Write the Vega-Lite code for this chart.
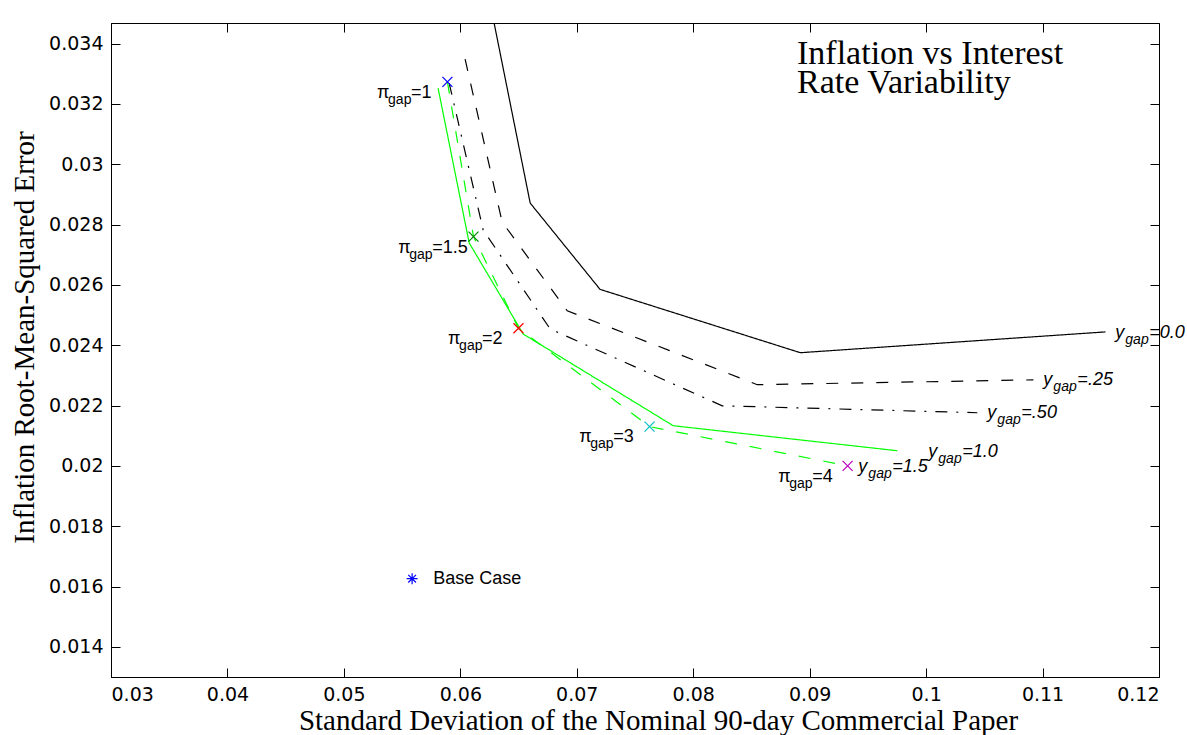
{
  "$schema": "https://vega.github.io/schema/vega-lite/v6.json",
  "width": 1048,
  "height": 654,
  "autosize": "none",
  "padding": {"left": 111, "top": 23, "right": 28, "bottom": 58},
  "background": "white",
  "title": {
    "text": ["Inflation vs Interest", "Rate Variability"],
    "anchor": "start",
    "frame": "group",
    "orient": "top",
    "offset": 0,
    "dx": 686,
    "dy": 104,
    "baseline": "alphabetic",
    "font": "Liberation Serif",
    "fontSize": 34,
    "fontWeight": "normal",
    "lineHeight": 29,
    "color": "#000000"
  },
  "config": {
    "view": {"stroke": "#000000", "strokeWidth": 1},
    "axis": {
      "grid": false,
      "domainColor": "#000000",
      "tickColor": "#000000",
      "tickWidth": 1,
      "labelColor": "#000000",
      "labelFont": "DejaVu Sans",
      "labelFontSize": 19,
      "titleColor": "#000000",
      "titleFont": "Liberation Serif",
      "titleFontSize": 29,
      "titleFontWeight": "normal"
    }
  },
  "datasets": {
    "lines": [
      {"series": "y0.0", "order": 1, "x": 0.0629, "y": 0.03468},
      {"series": "y0.0", "order": 2, "x": 0.0660, "y": 0.02871},
      {"series": "y0.0", "order": 3, "x": 0.0720, "y": 0.02585},
      {"series": "y0.0", "order": 4, "x": 0.0892, "y": 0.02375},
      {"series": "y0.0", "order": 5, "x": 0.1154, "y": 0.02444},
      {"series": "y.25", "order": 1, "x": 0.06041, "y": 0.03348},
      {"series": "y.25", "order": 2, "x": 0.06359, "y": 0.02808},
      {"series": "y.25", "order": 3, "x": 0.06918, "y": 0.02514},
      {"series": "y.25", "order": 4, "x": 0.0855, "y": 0.02269},
      {"series": "y.25", "order": 5, "x": 0.10921, "y": 0.02285},
      {"series": "y.50", "order": 1, "x": 0.05904, "y": 0.03269},
      {"series": "y.50", "order": 2, "x": 0.06196, "y": 0.02782},
      {"series": "y.50", "order": 3, "x": 0.06771, "y": 0.02454},
      {"series": "y.50", "order": 4, "x": 0.08249, "y": 0.02199},
      {"series": "y.50", "order": 5, "x": 0.1044, "y": 0.02176},
      {"series": "y1.0", "order": 1, "x": 0.05809, "y": 0.03252},
      {"series": "y1.0", "order": 2, "x": 0.06076, "y": 0.02739},
      {"series": "y1.0", "order": 3, "x": 0.0654, "y": 0.02437},
      {"series": "y1.0", "order": 4, "x": 0.07828, "y": 0.02133},
      {"series": "y1.0", "order": 5, "x": 0.09753, "y": 0.0205},
      {"series": "y1.5", "order": 1, "x": 0.05889, "y": 0.03273},
      {"series": "y1.5", "order": 2, "x": 0.06113, "y": 0.0276},
      {"series": "y1.5", "order": 3, "x": 0.06499, "y": 0.02456},
      {"series": "y1.5", "order": 4, "x": 0.07625, "y": 0.0213},
      {"series": "y1.5", "order": 5, "x": 0.09326, "y": 0.02}
    ],
    "markers": [
      {"pi": "1", "x": 0.05889, "y": 0.03273},
      {"pi": "1.5", "x": 0.06113, "y": 0.0276},
      {"pi": "2", "x": 0.06499, "y": 0.02456},
      {"pi": "3", "x": 0.07625, "y": 0.0213},
      {"pi": "4", "x": 0.09326, "y": 0.02}
    ],
    "piLabels": [
      {"x": 0.05285, "y": 0.03219, "sub": "gap", "rest": "=1"},
      {"x": 0.05466, "y": 0.02706, "sub": "gap", "rest": "=1.5"},
      {"x": 0.05895, "y": 0.02404, "sub": "gap", "rest": "=2"},
      {"x": 0.07021, "y": 0.0208, "sub": "gap", "rest": "=3"},
      {"x": 0.0873, "y": 0.01947, "sub": "gap", "rest": "=4"}
    ],
    "yLabels": [
      {"x": 0.11625, "y": 0.02424, "sub": "gap", "rest": "=0.0"},
      {"x": 0.11007, "y": 0.02269, "sub": "gap", "rest": "=.25"},
      {"x": 0.10526, "y": 0.02159, "sub": "gap", "rest": "=.50"},
      {"x": 0.10019, "y": 0.0203, "sub": "gap", "rest": "=1.0"},
      {"x": 0.09418, "y": 0.0198, "sub": "gap", "rest": "=1.5"}
    ],
    "base": [
      {"x": 0.05586, "y": 0.01626, "label": "Base Case"}
    ]
  },
  "layer": [
    {
      "data": {"name": "lines"},
      "mark": {"type": "line", "clip": true, "strokeWidth": 1.2},
      "encoding": {
        "x": {
          "field": "x", "type": "quantitative",
          "scale": {"domain": [0.03, 0.12], "nice": false, "zero": false},
          "axis": {
            "orient": "bottom",
            "values": [0.03, 0.04, 0.05, 0.06, 0.07, 0.08, 0.09, 0.1, 0.11, 0.12],
            "format": "~g",
            "tickSize": -9,
            "labelPadding": 17,
            "title": "Standard Deviation of the Nominal 90-day Commercial Paper",
            "titleX": 547,
            "titleY": 52,
            "titleBaseline": "alphabetic",
            "titleAlign": "center"
          }
        },
        "y": {
          "field": "y", "type": "quantitative",
          "scale": {"domain": [0.013, 0.03468], "nice": false, "zero": false},
          "axis": {
            "orient": "left",
            "values": [0.014, 0.016, 0.018, 0.02, 0.022, 0.024, 0.026, 0.028, 0.03, 0.032, 0.034],
            "format": "~g",
            "tickSize": -9,
            "labelPadding": 17,
            "title": "Inflation Root-Mean-Squared Error",
            "titleX": -78,
            "titleY": 314,
            "titleAngle": 270,
            "titleBaseline": "alphabetic",
            "titleAlign": "center"
          }
        },
        "order": {"field": "order", "type": "quantitative"},
        "color": {
          "field": "series", "type": "nominal", "legend": null,
          "scale": {"domain": ["y0.0", "y.25", "y.50", "y1.0", "y1.5"], "range": ["#000000", "#000000", "#000000", "#00ff00", "#00ff00"]}
        },
        "strokeDash": {
          "field": "series", "type": "nominal", "legend": null,
          "scale": {"domain": ["y0.0", "y.25", "y.50", "y1.0", "y1.5"], "range": [[1, 0], [12, 13], [12, 9, 2, 9], [1, 0], [12, 13]]}
        }
      }
    },
    {
      "data": {"name": "markers"},
      "mark": {"type": "point", "shape": "M-1,-1L1,1M-1,1L1,-1", "filled": false, "size": 100, "strokeWidth": 1.2, "opacity": 1},
      "encoding": {
        "x": {
          "field": "x", "type": "quantitative",
          "axis": {"orient": "top", "labels": false, "title": null, "domain": false, "tickSize": -9,
            "values": [0.03, 0.04, 0.05, 0.06, 0.07, 0.08, 0.09, 0.1, 0.11, 0.12]}
        },
        "y": {
          "field": "y", "type": "quantitative",
          "axis": {"orient": "right", "labels": false, "title": null, "domain": false, "tickSize": -9,
            "values": [0.014, 0.016, 0.018, 0.02, 0.022, 0.024, 0.026, 0.028, 0.03, 0.032, 0.034]}
        },
        "stroke": {
          "field": "pi", "type": "nominal", "legend": null,
          "scale": {"domain": ["1", "1.5", "2", "3", "4"], "range": ["#0000ff", "#008000", "#ff0000", "#00bfbf", "#bf00bf"]}
        }
      }
    },
    {
      "data": {"name": "base"},
      "mark": {"type": "point", "shape": "M-1,0L1,0M0,-1L0,1M-0.7,-0.7L0.7,0.7M-0.7,0.7L0.7,-0.7", "filled": false, "size": 121, "strokeWidth": 1.2, "stroke": "#0000ff", "opacity": 1},
      "encoding": {
        "x": {"field": "x", "type": "quantitative", "axis": null},
        "y": {"field": "y", "type": "quantitative", "axis": null}
      }
    },
    {
      "data": {"name": "base"},
      "mark": {"type": "text", "align": "left", "baseline": "middle", "dx": 21, "font": "Liberation Sans", "fontSize": 18, "color": "#000000"},
      "encoding": {
        "x": {"field": "x", "type": "quantitative", "axis": null},
        "y": {"field": "y", "type": "quantitative", "axis": null},
        "text": {"field": "label"}
      }
    },
    {
      "data": {"name": "piLabels"},
      "mark": {"type": "text", "text": "π", "align": "left", "baseline": "alphabetic", "font": "Liberation Sans", "fontSize": 18, "color": "#000000"},
      "encoding": {
        "x": {"field": "x", "type": "quantitative", "axis": null},
        "y": {"field": "y", "type": "quantitative", "axis": null}
      }
    },
    {
      "data": {"name": "piLabels"},
      "mark": {"type": "text", "align": "left", "baseline": "alphabetic", "dx": 11, "dy": 6, "font": "Liberation Sans", "fontSize": 14, "color": "#000000"},
      "encoding": {
        "x": {"field": "x", "type": "quantitative", "axis": null},
        "y": {"field": "y", "type": "quantitative", "axis": null},
        "text": {"field": "sub"}
      }
    },
    {
      "data": {"name": "piLabels"},
      "mark": {"type": "text", "align": "left", "baseline": "alphabetic", "dx": 34, "font": "Liberation Sans", "fontSize": 18, "color": "#000000"},
      "encoding": {
        "x": {"field": "x", "type": "quantitative", "axis": null},
        "y": {"field": "y", "type": "quantitative", "axis": null},
        "text": {"field": "rest"}
      }
    },
    {
      "data": {"name": "yLabels"},
      "mark": {"type": "text", "text": "y", "align": "left", "baseline": "alphabetic", "font": "Liberation Sans", "fontStyle": "italic", "fontSize": 18, "color": "#000000"},
      "encoding": {
        "x": {"field": "x", "type": "quantitative", "axis": null},
        "y": {"field": "y", "type": "quantitative", "axis": null}
      }
    },
    {
      "data": {"name": "yLabels"},
      "mark": {"type": "text", "align": "left", "baseline": "alphabetic", "dx": 10, "dy": 6, "font": "Liberation Sans", "fontStyle": "italic", "fontSize": 14, "color": "#000000"},
      "encoding": {
        "x": {"field": "x", "type": "quantitative", "axis": null},
        "y": {"field": "y", "type": "quantitative", "axis": null},
        "text": {"field": "sub"}
      }
    },
    {
      "data": {"name": "yLabels"},
      "mark": {"type": "text", "align": "left", "baseline": "alphabetic", "dx": 34, "font": "Liberation Sans", "fontStyle": "italic", "fontSize": 18, "color": "#000000"},
      "encoding": {
        "x": {"field": "x", "type": "quantitative", "axis": null},
        "y": {"field": "y", "type": "quantitative", "axis": null},
        "text": {"field": "rest"}
      }
    }
  ],
  "resolve": {"axis": {"x": "independent", "y": "independent"}}
}
